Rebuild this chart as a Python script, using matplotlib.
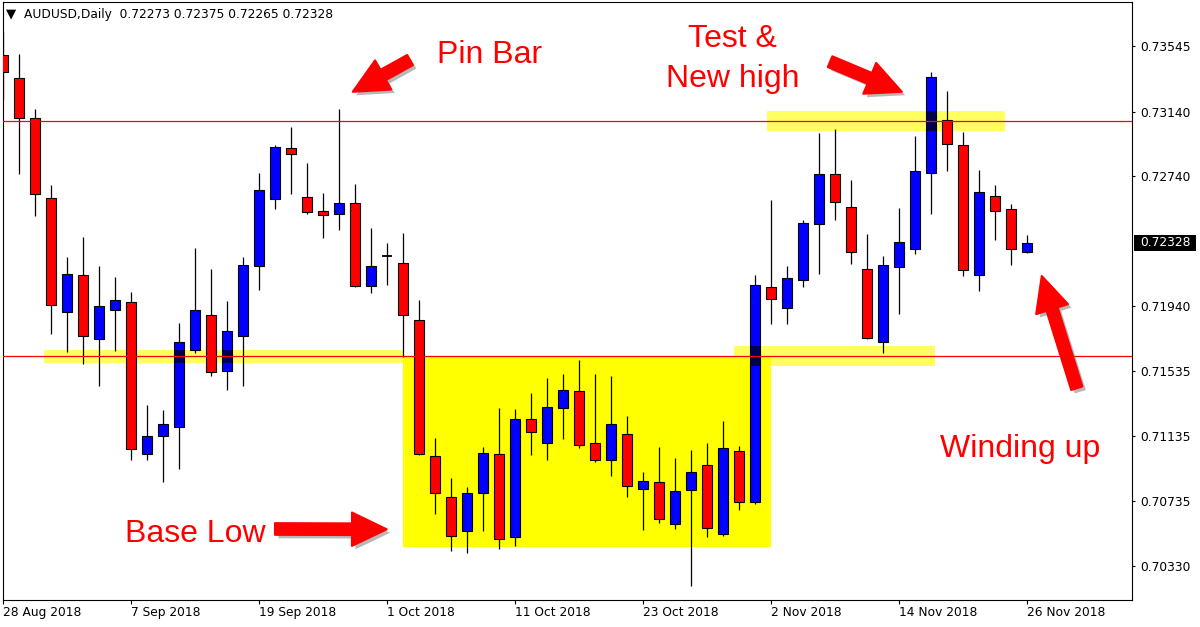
import matplotlib
matplotlib.use('Agg')
import matplotlib.pyplot as plt
import matplotlib.patheffects as pe
from matplotlib.patches import Rectangle
from matplotlib.transforms import blended_transform_factory
import pandas as pd

# AUDUSD daily bars, 28 Aug 2018 -> 26 Nov 2018
opens = [0.73488, 0.73345, 0.73100, 0.72603, 0.71899, 0.72127, 0.71732, 0.71911, 0.71960, 0.71021,
         0.71132, 0.71188, 0.71667, 0.71882, 0.71534, 0.71750, 0.72187, 0.72597, 0.72914, 0.72610,
         0.72525, 0.72504, 0.72574, 0.72063, 0.72249, 0.72202, 0.71849, 0.71008, 0.70755, 0.70545,
         0.70780, 0.71021, 0.70507, 0.71237, 0.71092, 0.71305, 0.71410, 0.71089, 0.70987, 0.71144,
         0.70804, 0.70848, 0.70588, 0.70798, 0.70953, 0.70526, 0.71039, 0.70724, 0.72053, 0.71923,
         0.72096, 0.72443, 0.72752, 0.72548, 0.72164, 0.71713, 0.72177, 0.72288, 0.72758, 0.73086,
         0.72931, 0.72127, 0.72616, 0.72535, 0.72273]
highs = [0.73630, 0.73496, 0.73156, 0.72686, 0.72240, 0.72364, 0.72185, 0.72117, 0.72024, 0.71325,
         0.71295, 0.71832, 0.72296, 0.72166, 0.71968, 0.72240, 0.72760, 0.72933, 0.73044, 0.72822,
         0.72638, 0.73157, 0.72692, 0.72420, 0.72327, 0.72389, 0.71975, 0.71121, 0.70872, 0.70817,
         0.71066, 0.71309, 0.71303, 0.71400, 0.71492, 0.71517, 0.71604, 0.71517, 0.71505, 0.71257,
         0.70911, 0.71066, 0.70998, 0.71047, 0.71091, 0.71227, 0.71072, 0.72127, 0.72593, 0.72185,
         0.72471, 0.73007, 0.73032, 0.72715, 0.72381, 0.72245, 0.72542, 0.72989, 0.73382, 0.73267,
         0.73011, 0.72776, 0.72686, 0.72568, 0.72375]
lows = [0.73217, 0.72752, 0.72496, 0.71763, 0.71655, 0.71577, 0.71445, 0.71661, 0.70987, 0.70987,
        0.70851, 0.70932, 0.71645, 0.71507, 0.71420, 0.71445, 0.72038, 0.72537, 0.72632, 0.72508,
        0.72360, 0.72409, 0.72057, 0.72020, 0.72069, 0.71624, 0.71018, 0.70653, 0.70425, 0.70412,
        0.70545, 0.70433, 0.70456, 0.71018, 0.70987, 0.71117, 0.71061, 0.70975, 0.70888, 0.70759,
        0.70554, 0.70598, 0.70561, 0.70208, 0.70507, 0.70514, 0.70678, 0.70715, 0.71828, 0.71824,
        0.72053, 0.72134, 0.72471, 0.72195, 0.71732, 0.71645, 0.71886, 0.72257, 0.72504, 0.72774,
        0.72121, 0.72028, 0.72344, 0.72189, 0.72265]
closes = [0.73384, 0.73098, 0.72628, 0.71942, 0.72134, 0.71750, 0.71938, 0.71973, 0.71052, 0.71132,
          0.71206, 0.71713, 0.71911, 0.71529, 0.71781, 0.72189, 0.72653, 0.72921, 0.72879, 0.72517,
          0.72498, 0.72574, 0.72063, 0.72185, 0.72249, 0.71880, 0.71024, 0.70780, 0.70514, 0.70780,
          0.71027, 0.70495, 0.71237, 0.71160, 0.71311, 0.71416, 0.71080, 0.70987, 0.71206, 0.70823,
          0.70854, 0.70619, 0.70792, 0.70909, 0.70563, 0.71058, 0.70724, 0.72066, 0.71979, 0.72109,
          0.72449, 0.72752, 0.72579, 0.72270, 0.71738, 0.72189, 0.72331, 0.72770, 0.73351, 0.72937,
          0.72158, 0.72640, 0.72523, 0.72288, 0.72328]

dates = pd.bdate_range('2018-08-28', '2018-11-26')
price_ticks = [0.73545, 0.73140, 0.72740, 0.71940, 0.71535, 0.71135, 0.70735, 0.70330]
last_price = 0.72328
hlines = [0.73079, 0.71626]

# highlight zones: (bar from, bar to, price low, price high)
base_box = (24.98, 47.98, 0.70448, 0.71624)
bands = [(2.54, 24.98, 0.71587, 0.71665),
         (45.67, 58.23, 0.71568, 0.71690),
         (47.71, 62.61, 0.73020, 0.73143)]

# arrows: (tail bar, tail price, head bar, head price)
arrows = [(25.42, 0.73458, 21.84, 0.73262),
          (51.67, 0.73448, 56.15, 0.73262),
          (16.98, 0.70559, 23.96, 0.70557),
          (67.09, 0.71429, 64.90, 0.72123)]

W, H = 1200, 627
fig = plt.figure(figsize=(W / 100, H / 100), dpi=100)
ax = fig.add_axes([3 / W, 27 / H, 1129 / W, 598 / H])
ax.set_xlim(-0.02, 70.54)
ax.set_ylim(0.70120, 0.73817)

bw = 0.63
for i in range(len(opens)):
    o, h, l, c = opens[i], highs[i], lows[i], closes[i]
    ax.vlines(i, l, h, color='black', lw=0.9, zorder=3)
    if c == o:
        ax.hlines(o, i - bw / 2, i + bw / 2, color='black', lw=1.3, zorder=4)
        continue
    col = '#0000FF' if c > o else '#FF0000'
    ax.add_patch(Rectangle((i - bw / 2, min(o, c)), bw, abs(c - o), fc=col, ec='black', lw=0.8, zorder=4))
    if c > o:
        # multiply look of the light yellow bands over blue bodies
        for x0, x1, y0, y1 in bands:
            a, b = max(x0, i - bw / 2), min(x1, i + bw / 2)
            lo, hi = max(y0, o), min(y1, c)
            if a < b and lo < hi:
                ax.add_patch(Rectangle((a, lo), b - a, hi - lo, fc='#000050', ec='none', zorder=5))

for x0, x1, y0, y1 in bands:
    ax.add_patch(Rectangle((x0, y0), x1 - x0, y1 - y0, fc='#FFFF60', ec='none', zorder=1))
x0, x1, y0, y1 = base_box
ax.add_patch(Rectangle((x0, y0), x1 - x0, y1 - y0, fc='#FFFF00', ec='none', zorder=1.5))

for y in hlines:
    ax.axhline(y, color='red', lw=0.9, zorder=6)

shadow = [pe.SimplePatchShadow(offset=(2.5, -2.5), shadow_rgbFace='0.45', alpha=0.5), pe.Normal()]
for tx, ty, hx, hy in arrows:
    ax.annotate('', xy=(hx, hy), xytext=(tx, ty),
                arrowprops=dict(arrowstyle='simple,head_length=1.25,head_width=1.2,tail_width=0.42',
                                fc='red', ec='red', lw=1.5, joinstyle='round', mutation_scale=20,
                                shrinkA=0, shrinkB=0, path_effects=shadow),
                zorder=7)

big = dict(color='red', fontsize=23, family='Liberation Sans', va='baseline', zorder=8)
ax.text(27.09, 0.73438, 'Pin Bar', ha='left', **big)
ax.text(45.58, 0.73541, 'Test &', ha='center', **big)
ax.text(45.58, 0.73290, 'New high', ha='center', **big)
ax.text(7.61, 0.70480, 'Base Low', ha='left', **big)
ax.text(58.54, 0.71006, 'Winding up', ha='left', **big)

# axes, ticks
for s in ax.spines.values():
    s.set_linewidth(0.8)
ax.yaxis.tick_right()
ax.set_yticks(price_ticks)
ax.set_yticklabels([f'{p:.5f}' for p in price_ticks])
ax.tick_params(axis='y', direction='out', length=2.2, width=0.8, pad=3.6, labelsize=8.8)
xt = list(range(0, len(dates), 8))
ax.set_xticks(xt)
ax.set_xticklabels([f'{dates[k].day} {dates[k].strftime("%b %Y")}' for k in xt])
ax.tick_params(axis='x', direction='out', length=2.9, width=0.8, pad=1.5, labelsize=8.8)
for lbl in ax.get_xticklabels():
    lbl.set_ha('left')

# last price box
tr = blended_transform_factory(ax.transAxes, ax.transData)
ax.add_patch(Rectangle((1 + 2 / 1129, last_price - 0.000515), 62 / 1129, 0.00103, transform=tr,
                       fc='black', ec='none', clip_on=False, zorder=9))
ax.text(1 + 8 / 1129, last_price, f'{last_price:.5f}', transform=tr, color='white', fontsize=8.8,
        va='center', ha='left', zorder=10, clip_on=False)

fig.text(6 / W, 1 - 13.5 / H, '▼', fontsize=9.5, va='center', ha='left')
fig.text(24.3 / W, 1 - 14.5 / H, 'AUDUSD,Daily  0.72273 0.72375 0.72265 0.72328', fontsize=8.8,
         va='center', ha='left')

fig.savefig('out.png', dpi=100)
